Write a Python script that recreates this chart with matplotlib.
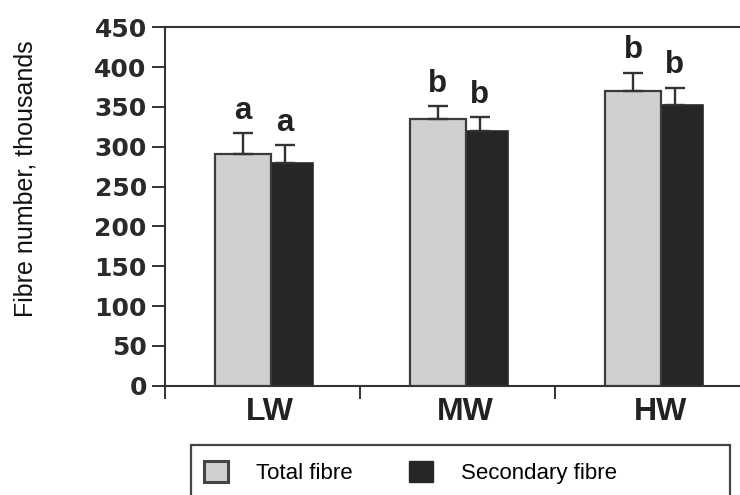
import numpy as np
import matplotlib
matplotlib.use("Agg")
import matplotlib.pyplot as plt
import matplotlib.patches as mpatches

# values (thousands of fibres)
groups = ["LW", "MW", "HW"]
total_fibre = [291, 335, 370]
total_err = [26, 16, 23]
secondary_fibre = [280, 320, 352]
secondary_err = [22, 17, 22]
total_letters = ["a", "b", "b"]
secondary_letters = ["a", "b", "b"]
series_names = ["Total fibre", "Secondary fibre"]
yticks = list(range(0, 451, 50))

W, H = 740, 495
fig = plt.figure(figsize=(W / 100, H / 100), dpi=100)
# axes run past the right edge of the figure, as in the reference
ax = fig.add_axes([165 / W, (H - 385.7) / H, 585 / W, 358.4 / H])

dark = "#333333"
light = "#d0d0d0"
black = "#262626"
x = np.arange(len(groups))
bw = 0.292
off_tot = -0.100
off_sec = 0.115

ax.bar(x + off_sec, secondary_fibre, width=bw, color=black, edgecolor="#2a2a2a",
       linewidth=1.2, zorder=2)
ax.bar(x + off_tot, total_fibre, width=bw, color=light, edgecolor="#3c3c3c",
       linewidth=1.6, zorder=3)
ax.errorbar(x + off_tot, total_fibre, yerr=[[0] * 3, total_err], fmt="none",
            ecolor=dark, elinewidth=1.7, capsize=7, capthick=1.7, zorder=4)
ax.errorbar(x + off_sec, secondary_fibre, yerr=[[0] * 3, secondary_err], fmt="none",
            ecolor=dark, elinewidth=1.7, capsize=7, capthick=1.7, zorder=4)

letter_font = dict(family="Liberation Sans", weight="bold", size=22.5, color="#222222")
for i in range(len(groups)):
    ax.annotate(total_letters[i], (x[i] + off_tot, total_fibre[i] + total_err[i]),
                xytext=(0, 10.5), textcoords="offset points", ha="center",
                va="baseline", **letter_font)
    ax.annotate(secondary_letters[i], (x[i] + off_sec, secondary_fibre[i] + secondary_err[i]),
                xytext=(0, 10.5), textcoords="offset points", ha="center",
                va="baseline", **letter_font)

ax.set_xlim(-0.5, 2.5)
ax.set_ylim(0, 450)
ax.set_yticks(yticks)
ax.set_yticklabels([str(v) for v in yticks], family="DejaVu Sans", weight="bold",
                   fontsize=18, color="#2a2a2a")
ax.set_xticks([-0.5, 0.5, 1.5, 2.5])
ax.set_xticklabels([])
ax.set_xticks(x + 0.04, minor=True)
ax.set_xticklabels(groups, minor=True, family="Liberation Sans", weight="bold",
                   fontsize=23, color="#222222")
ax.tick_params(axis="both", which="major", direction="out", length=9.5, width=1.4,
               color=dark)
ax.tick_params(axis="y", pad=3.6)
ax.tick_params(axis="x", which="minor", length=0, pad=8)

for side in ["left", "top", "bottom"]:
    ax.spines[side].set_color(dark)
    ax.spines[side].set_linewidth(1.5)
ax.spines["right"].set_visible(False)

fig.text(26 / W, 1 - 179 / H, "Fibre number, thousands", rotation=90,
         ha="center", va="center", family="Liberation Sans", fontsize=18,
         color="#111111")

# legend box, bottom edge runs off the figure
fig.patches.append(mpatches.Rectangle((191 / W, -0.05), (730 - 191) / W, 0.05 + (H - 445) / H,
                                      transform=fig.transFigure, fill=False,
                                      edgecolor="#444444", linewidth=1.6))
handles = [
    mpatches.Patch(facecolor=light, edgecolor="#444444", linewidth=2.2, label=series_names[0]),
    mpatches.Patch(facecolor=black, edgecolor="#2a2a2a", linewidth=1.0, label=series_names[1]),
]
fig.legend(handles=handles, loc="upper left", bbox_to_anchor=(204 / W, 1 - 461 / H),
           bbox_transform=fig.transFigure, ncol=2, frameon=False, borderpad=0,
           borderaxespad=0, handlelength=1.08, handleheight=1.08,
           handletextpad=1.26, columnspacing=2.52,
           prop=dict(family="Liberation Sans", size=16))

fig.savefig("out.png", dpi=100)
